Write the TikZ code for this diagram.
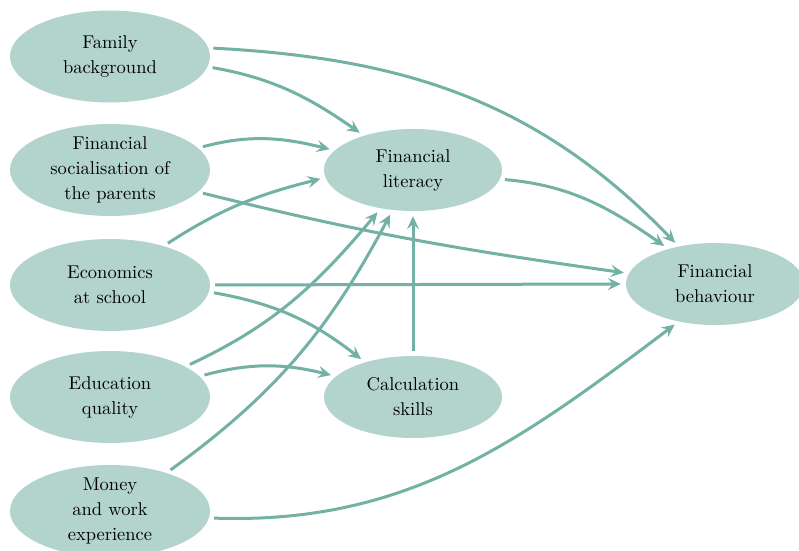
\documentclass[tikz,border=0pt]{standalone}
\usepackage{fontspec}
\setmainfont{lmroman10-regular.otf}
\usetikzlibrary{shapes.geometric,arrows.meta}
\definecolor{ellfill}{HTML}{B3D3CD}
\definecolor{arrowcol}{HTML}{72B1A4}
\begin{document}
\begin{tikzpicture}[x=1pt,y=1pt,
  txt/.style={align=center,inner sep=0pt,text=black,font=\fontsize{18.5}{25}\selectfont},
  bigell/.style={ellipse,fill=ellfill,draw=none,inner sep=0pt,minimum width=200pt,minimum height=92pt},
  midell/.style={ellipse,fill=ellfill,draw=none,inner sep=0pt,minimum width=178pt,minimum height=82pt},
  link/.style={draw=arrowcol,line width=3pt,
    -{Stealth[length=13pt,width=12pt,inset=5pt]},
    shorten <=5pt,shorten >=5pt}]
\useasboundingbox (0,0) rectangle (799,550);

% left column: influences
\node[bigell,label={[txt]center:Family\\background}] (fam) at (110,493.5) {};
\node[bigell,label={[txt]center:Financial\\socialisation of\\the parents}] (soc) at (110,380) {};
\node[bigell,label={[txt]center:Economics\\at school}] (eco) at (110,265) {};
\node[bigell,label={[txt]center:Education\\quality}] (edu) at (110,153) {};
\node[bigell,label={[txt]center:Money\\and work\\experience}] (mon) at (110,39) {};

% middle and right
\node[midell,label={[txt]center:Financial\\literacy}] (lit) at (413,380) {};
\node[midell,label={[txt]center:Calculation\\skills}] (calc) at (413,153) {};
\node[midell,label={[txt]center:Financial\\behaviour}] (beh) at (715,266) {};

% paths into financial literacy
\draw[link] (fam.-6) to[out=-10,in=145] (lit.145);
\draw[link] (soc.14) to[out=15,in=166] (lit.166);
\draw[link] (eco.36) to[out=33,in=-166] (lit.-175);
\draw[link] (edu.22) to[out=25,in=-130] (lit.-130);
\draw[link] (mon.34) to[out=36,in=-118] (lit.-117);
\draw[link] (calc.north) -- (lit.south);

% paths into calculation skills
\draw[link] (eco.-4) to[out=-10,in=142] (calc.144);
\draw[link] (edu.13) to[out=15,in=166] (calc.165);

% paths into financial behaviour
\draw[link] (fam.5) to[out=-3,in=134] (beh.134);
\draw[link] (soc.-14) to[out=-14,in=172] (beh.173);
\draw[link] (eco.0) -- (beh.180);
\draw[link] (lit.-6) to[out=-5,in=145] (beh.143);
\draw[link] (mon.-4) to[out=-2,in=-143] (beh.-134);
\end{tikzpicture}
\end{document}
